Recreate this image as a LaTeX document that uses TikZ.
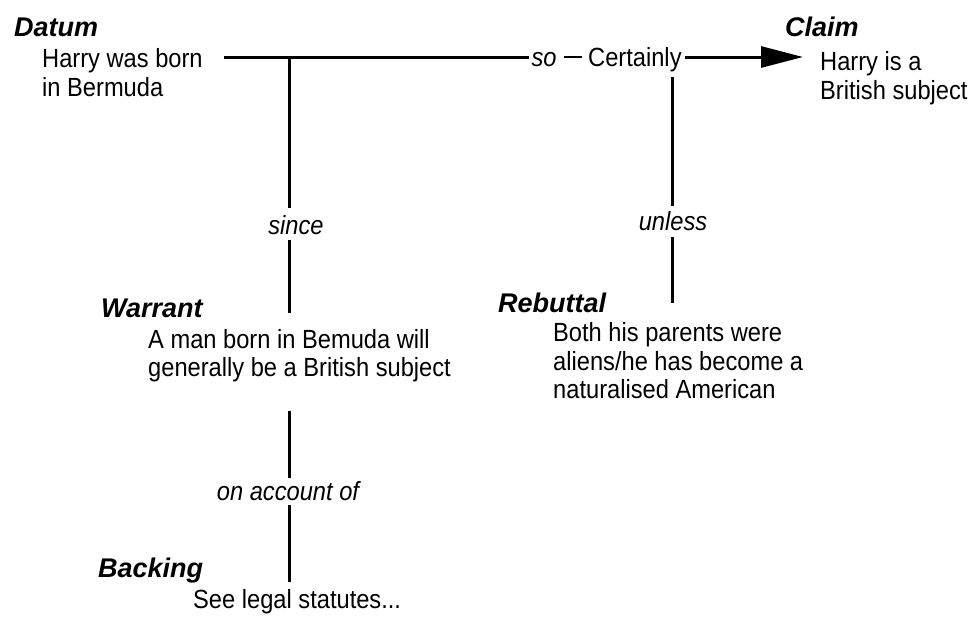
\documentclass[tikz,border=0pt]{standalone}
\usepackage{fontspec}
\setmainfont{Liberation Sans}[FakeStretch=0.9]
\newfontfamily\headfont{Liberation Sans}
\usetikzlibrary{arrows.meta}
\begin{document}
\begin{tikzpicture}[x=1pt,y=-1pt,
  heading/.style={anchor=base west, inner sep=0pt, font=\headfont\fontsize{27}{32}\selectfont\bfseries\itshape},
  body/.style={anchor=north west, inner sep=0pt, align=left, font=\fontsize{26.3}{28.5}\selectfont},
  bodyline/.style={anchor=base west, inner sep=0pt, font=\fontsize{26.3}{28.5}\selectfont},
  linkword/.style={anchor=base, inner sep=0pt, font=\fontsize{26.3}{28.5}\selectfont\itshape},
  conn/.style={line width=3pt},
  thin/.style={line width=2.2pt}]
\useasboundingbox (0,0) rectangle (974,625);
% headings
\node[heading] (datumH) at (14,36) {Datum};
\node[heading] (claimH) at (785,36) {Claim};
\node[heading] (warrantH) at (101,317) {Warrant};
\node[heading] (rebuttalH) at (498,312) {Rebuttal};
\node[heading] (backingH) at (98,577) {Backing};
% texts
\node[body] (datum) at (42,48.7) {Harry was born\\in Bermuda};
\node[body] (claim) at (820,51.7) {Harry is a\\British subject};
\node[body] (warrant) at (148,329.2) {A man born in Bemuda will\\generally be a British subject};
\node[body] (rebuttal) at (553,322.5) {Both his parents were\\aliens/he has become a\\naturalised American};
\node[bodyline] (backing) at (193,608) {See legal statutes...};
\node[bodyline] (certainly) at (588,66) {Certainly};
% link words
\node[linkword] (so) at (544,66) {so};
\node[linkword] (since) at (296,234) {since};
\node[linkword] (unless) at (673,230) {unless};
\node[linkword] (account) at (288,500) {on account of};
% connector end points
\coordinate (dStart) at (224,57);
\coordinate (j1) at (289,57);
\coordinate (soL) at (529,57);
\coordinate (soR) at (564,57);
\coordinate (cL) at (582,57);
\coordinate (cR) at (685,57);
\coordinate (tip) at (803,57);
\coordinate (sinceT) at (289,208);
\coordinate (sinceB) at (289,240);
\coordinate (wTop) at (289,313);
\coordinate (wBot) at (289,411);
\coordinate (accT) at (289,478);
\coordinate (accB) at (289,505);
\coordinate (bTop) at (289,582);
\coordinate (certB) at (672,77);
\coordinate (unlT) at (672,206);
\coordinate (unlB) at (672,237);
\coordinate (rTop) at (672,303);
% connectors
\draw[conn] (dStart) -- (soL);
\draw[thin] (soR) -- (cL);
\draw[conn, -{Triangle[length=42pt,width=21pt]}] (cR) -- (tip);
\draw[conn] (j1) -- (sinceT);
\draw[conn] (sinceB) -- (wTop);
\draw[conn] (wBot) -- (accT);
\draw[conn] (accB) -- (bTop);
\draw[conn] (certB) -- (unlT);
\draw[conn] (unlB) -- (rTop);
\end{tikzpicture}
\end{document}
